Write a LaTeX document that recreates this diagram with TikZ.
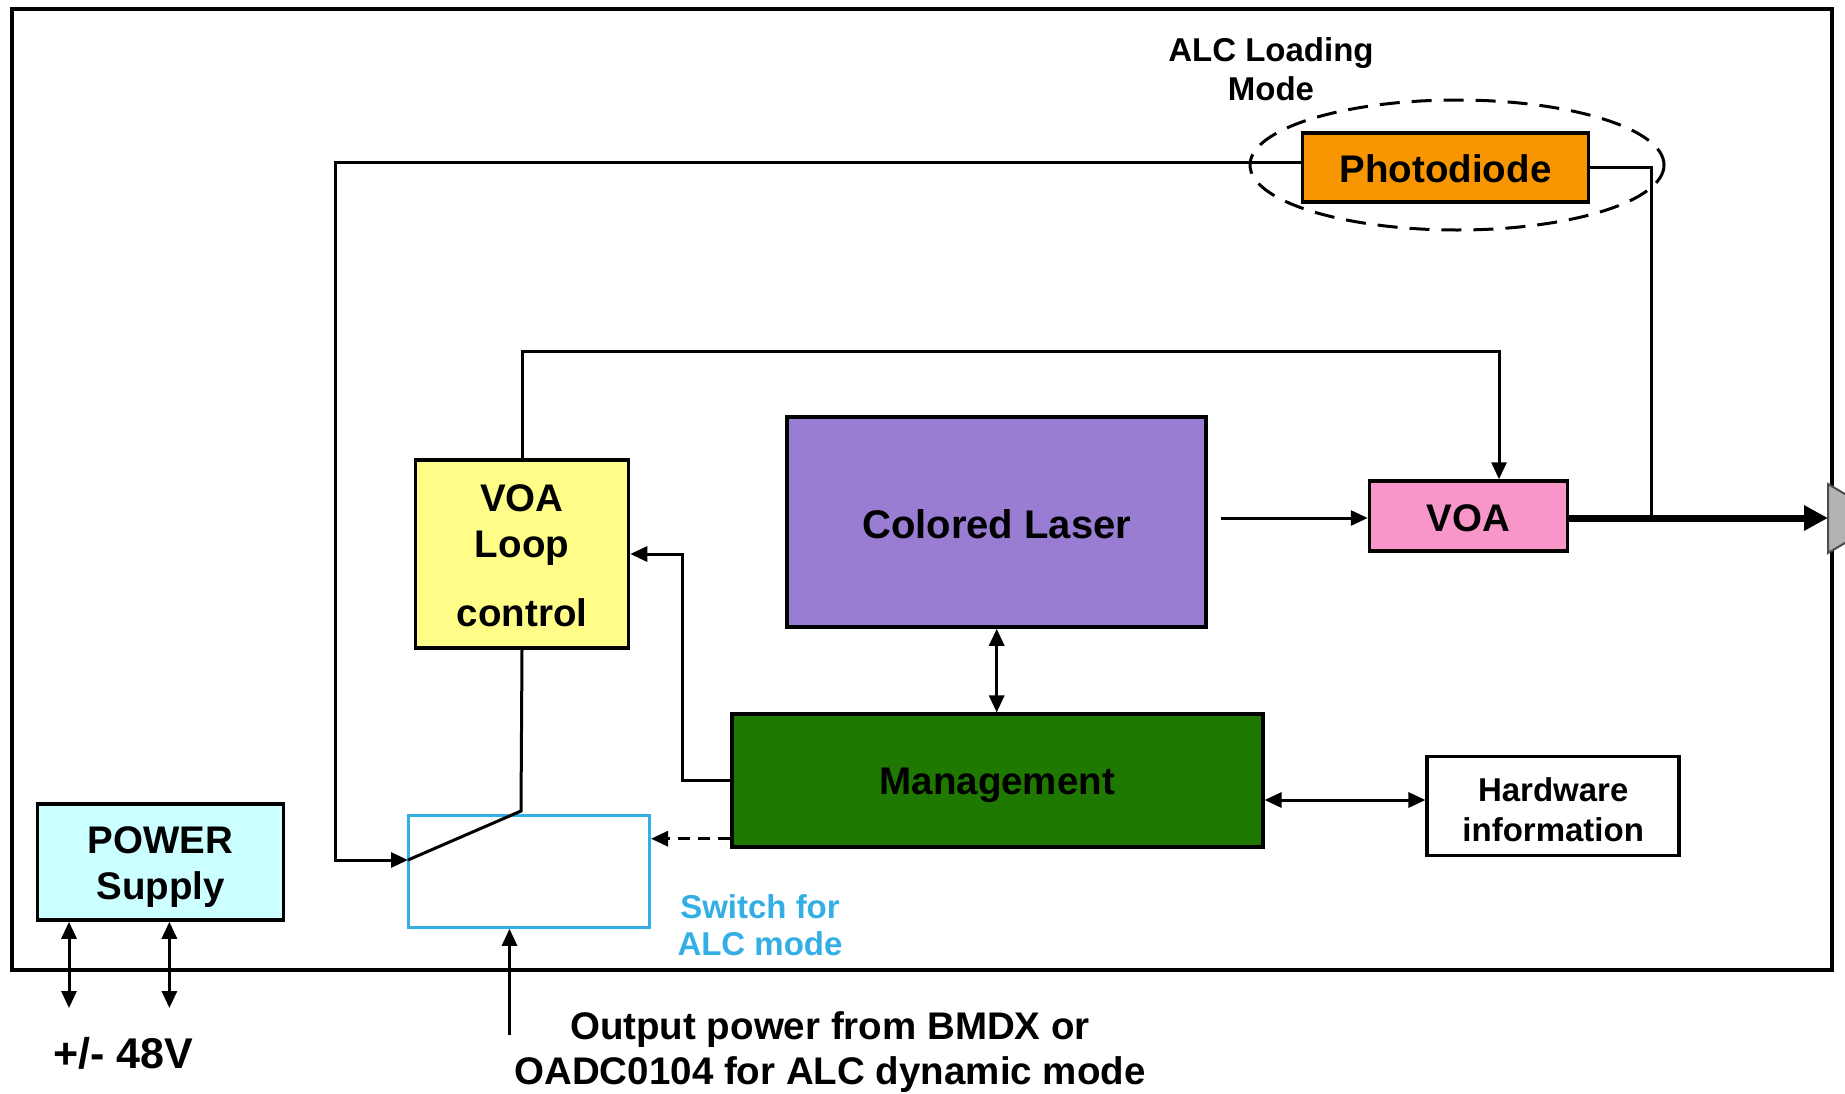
\documentclass[tikz,border=0pt]{standalone}
\usepackage{fontspec}
\setmainfont{Liberation Sans}
\usetikzlibrary{arrows.meta}
\definecolor{pdorange}{RGB}{247,150,0}
\definecolor{loopyellow}{RGB}{255,253,136}
\definecolor{laserpurple}{RGB}{152,125,211}
\definecolor{voapink}{RGB}{248,150,202}
\definecolor{mgmtgreen}{RGB}{31,120,0}
\definecolor{pscyan}{RGB}{204,255,255}
\definecolor{swcyan}{RGB}{51,175,230}
\definecolor{conngray}{RGB}{179,179,179}
\newcommand\fntA{\fontsize{38.5}{46}\selectfont\bfseries}
\newcommand\fntB{\fontsize{33}{39}\selectfont\bfseries}
\newcommand\fntC{\fontsize{43}{50}\selectfont\bfseries}
\newcommand\fntD{\fontsize{40}{46}\selectfont\bfseries}
\newcommand\lowerby[2]{\raisebox{-#1}[\height][\depth]{#2}}
\begin{document}
\begin{tikzpicture}[x=1pt,y=-1pt,
  blk/.style={draw=black,line width=3.5pt,inner sep=0pt,align=center,font=\fntA},
  txt/.style={inner sep=0pt,align=center,font=\fntA},
  conn/.style={line width=3pt},
  arr/.style={conn,-{Triangle[length=17pt,width=15pt]}},
  darr/.style={conn,{Triangle[length=17pt,width=15pt]}-{Triangle[length=17pt,width=15pt]}},
  bigarr/.style={line width=7pt,-{Triangle[length=24pt,width=24pt]}}
]
\useasboundingbox (0,0) rectangle (1845,1093);
\clip (0,0) rectangle (1845,1093);
\fill[white] (0,0) rectangle (1845,1093);

% outer frame
\draw[line width=3.5pt] (12,9) rectangle (1832,970);

% dashed ellipse (ALC loading mode)
\draw[line width=3pt,dash pattern=on 20pt off 12pt] (1457,165) ellipse [x radius=207, y radius=65];

% blocks
\node[blk,fill=pdorange,minimum width=286,minimum height=69] (pd) at (1445.5,167.7) {\lowerby{1.5pt}{Photodiode}};
\node[blk,fill=loopyellow,minimum width=213,minimum height=188] (vlc) at (522,554) {\lowerby{2pt}{\parbox{200pt}{\centering VOA\\Loop\\[23pt]control}}};
\node[blk,fill=laserpurple,minimum width=419,minimum height=210,font=\fntD] (las) at (996.7,522) {\lowerby{2.5pt}{Colored Laser}};
\node[blk,fill=voapink,minimum width=198,minimum height=70] (voa) at (1468.5,516) {\lowerby{2.5pt}{VOA}};
\node[blk,fill=mgmtgreen,minimum width=531,minimum height=133] (mgmt) at (997.3,780.7) {\lowerby{4.7pt}{Management}};
\node[blk,fill=white,minimum width=252,minimum height=99,font=\fntB] (hw) at (1553.2,806) {\lowerby{3.5pt}{\parbox{240pt}{\centering Hardware\\[1pt]information}}};
\node[blk,fill=pscyan,minimum width=246,minimum height=116] (ps) at (160.6,862) {\lowerby{4.7pt}{\parbox{230pt}{\centering POWER\\Supply}}};
\node[draw=swcyan,line width=3pt,minimum width=241,minimum height=112,inner sep=0pt] (sw) at (529,871.3) {};

% texts
\node[txt,font=\fntB] (alc) at (1271,69) {ALC Loading\\Mode};
\node[txt,font=\fntB,text=swcyan,align=center] (swl) at (760,925.5) {Switch for\\[-2pt]ALC mode};
\node[txt,font=\fntC] (volt) at (123.6,1053.5) {+/- 48V};
\node[txt,font=\fntA] (outtxt) at (830,1052) {Output power from BMDX or\\[-1pt]OADC0104 for ALC dynamic mode};

% coordinates
\coordinate (piv) at (408,860);
\coordinate (lever) at (521,811);
\coordinate (tap) at (1651,518);
\coordinate (vtop) at (1499,351);
\coordinate (lsrout) at (1221,518);
\coordinate (outp) at (1828,518);
\coordinate (v1) at (69,1008);
\coordinate (v2) at (169.4,1008);
\coordinate (inp) at (509.5,1035);

% gray connector at right edge
\draw[fill=conngray,draw=black!70,line width=2pt] (1828,484) -- (1850,497) -- (1850,540) -- (1828,553) -- cycle;

% connectors
\draw[arr] ([yshift=5pt]pd.west) -| (335,860) -- (piv);
\draw[conn] (piv) -- (lever) -- (vlc.south);
\draw[conn] (pd.east) -| (tap);
\draw[arr] (vlc.north) |- (vtop) -- (vtop |- voa.north);
\draw[arr] (lsrout) -- (lsrout -| voa.west);
\draw[bigarr] (voa.east |- outp) -- (outp);
\draw[darr] (las.south) -- (las.south |- mgmt.north);
\draw[arr] (mgmt.west) -| ([xshift=52pt]vlc.east) -- (vlc.east);
\draw[arr,dash pattern=on 12pt off 8pt] ([yshift=-58pt]mgmt.west) -- ([yshift=-58pt]mgmt.west -| sw.east);
\draw[darr] ([yshift=6pt]hw.west -| mgmt.east) -- ([yshift=6pt]hw.west);
\draw[darr] (v1 |- ps.south) -- (v1);
\draw[darr] (v2 |- ps.south) -- (v2);
\draw[arr] (inp) -- (inp |- sw.south);
\end{tikzpicture}
\end{document}
